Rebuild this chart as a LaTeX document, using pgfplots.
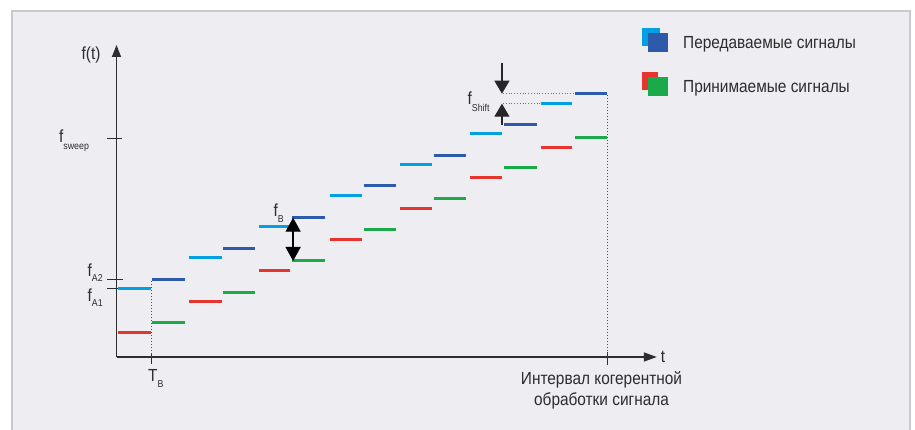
\documentclass[border=0pt]{standalone}
\usepackage{pgfplots}
\pgfplotsset{compat=1.18}
\usepackage{fontspec}
\setmainfont{Liberation Sans}[FakeStretch=0.88]
\usetikzlibrary{arrows.meta}
\definecolor{bgc}{RGB}{237,237,242}
\definecolor{frm}{RGB}{200,200,206}
\definecolor{cyanb}{RGB}{0,160,227}
\definecolor{darkb}{RGB}{46,90,172}
\definecolor{redb}{RGB}{232,52,46}
\definecolor{greenb}{RGB}{26,170,74}
\definecolor{txt}{RGB}{45,45,45}
\newcommand\IP[2]{({#1pt},{430pt-#2pt})}
\newcommand\mainf{\fontsize{17.5}{20}\selectfont}
\newcommand\subf[2][-5.5pt]{\raisebox{#1}{\fontsize{10}{11}\selectfont #2}}
\begin{document}
\begin{tikzpicture}
\fill[bgc] \IP{12}{11} rectangle \IP{910}{440};
\draw[frm, line width=2pt] \IP{12}{440} -- \IP{12}{11} -- \IP{910}{11} -- \IP{910}{440};
\begin{axis}[at={(116.5pt,73pt)}, anchor=south west, x=35.04pt, y=1pt,
  xmin=0, xmax=14, ymin=0, ymax=300, enlargelimits=false,
  hide axis, clip=false, unbounded coords=jump]
% transmitted
\addplot[cyanb, line width=3pt, no marks] coordinates {
 (0.04,68) (0.98,68) (nan,nan)
 (2.07,99) (3.01,99) (nan,nan)
 (4.07,130) (4.95,130) (nan,nan)
 (6.09,161) (7.00,161) (nan,nan)
 (8.09,192) (9.00,192) (nan,nan)
 (10.09,223) (11.00,223) (nan,nan)
 (12.11,253.3) (13.00,253.3)};
\addplot[darkb, line width=3pt, no marks] coordinates {
 (1.01,77.7) (1.95,77.7) (nan,nan)
 (3.04,108.7) (3.95,108.7) (nan,nan)
 (5.01,139.3) (5.95,139.3) (nan,nan)
 (7.06,171) (7.98,171) (nan,nan)
 (9.06,201) (9.97,201) (nan,nan)
 (11.06,232) (12.00,232) (nan,nan)
 (13.08,263.3) (14.00,263.3)};
% received
\addplot[redb, line width=3pt, no marks] coordinates {
 (0.04,24.3) (0.98,24.3) (nan,nan)
 (2.07,55.3) (3.01,55.3) (nan,nan)
 (4.07,86.3) (4.95,86.3) (nan,nan)
 (6.09,117) (7.00,117) (nan,nan)
 (8.09,148) (9.00,148) (nan,nan)
 (10.09,179) (11.00,179) (nan,nan)
 (12.11,209.7) (13.00,209.7)};
\addplot[greenb, line width=3pt, no marks] coordinates {
 (1.01,34.3) (1.95,34.3) (nan,nan)
 (3.04,64.7) (3.95,64.7) (nan,nan)
 (5.01,96) (5.95,96) (nan,nan)
 (7.06,127) (7.98,127) (nan,nan)
 (9.06,158) (9.97,158) (nan,nan)
 (11.06,189) (12.00,189) (nan,nan)
 (13.08,219.3) (14.00,219.3)};
% axes
\draw[txt, line width=1.4pt, -{Triangle[length=12pt,width=9pt]}] (axis cs:0,0) -- (axis cs:0,312);
\draw[txt, line width=1.4pt, -{Triangle[length=13pt,width=9pt]}] (axis cs:0,0) -- (axis cs:15.42,0);
% ticks
\draw[txt, line width=1pt] (axis cs:-0.28,218.7) -- (axis cs:0.16,218.7);
\draw[txt, line width=1pt] (axis cs:-0.27,77.7) -- (axis cs:0.18,77.7);
\draw[txt, line width=1pt] (axis cs:-0.27,68) -- (axis cs:0.05,68);
\draw[txt, line width=1pt] (axis cs:1.01,-7) -- (axis cs:1.01,3);
\draw[txt, line width=1pt] (axis cs:14.0,-8) -- (axis cs:14.0,5);
% dotted guides
\draw[black!70, dotted, line width=1pt] (axis cs:1.01,0) -- (axis cs:1.01,77.7);
\draw[black!70, dotted, line width=1pt] (axis cs:14.0,0) -- (axis cs:14.0,263.3);
\draw[black!55, dotted, line width=0.8pt] (axis cs:11.03,263.3) -- (axis cs:13.08,263.3);
\draw[black!55, dotted, line width=0.8pt] (axis cs:11.03,253.3) -- (axis cs:12.11,253.3);
% f_B double arrow
\draw[black, line width=1.3pt, {Triangle[length=14pt,width=15pt]}-{Triangle[length=14pt,width=15pt]}] (axis cs:5.04,96) -- (axis cs:5.04,139.3);
% f_shift arrows
\draw[black!85, line width=1.2pt, -{Triangle[length=13pt,width=15pt]}] (axis cs:11.0,294) -- (axis cs:11.0,263.3);
\draw[black!85, line width=1.2pt, -{Triangle[length=13pt,width=15pt]}] (axis cs:11.0,232) -- (axis cs:11.0,253.3);
\end{axis}
% labels
\begin{scope}[every node/.style={inner sep=0pt, text=txt, font=\mainf}]
\node[anchor=center] at \IP{91}{55} {f(t)};
\node[anchor=base west] at \IP{59}{143} {f\subf[-7pt]{sweep}};
\node[anchor=base west] at \IP{87.5}{277} {f\subf[-5pt]{A2}};
\node[anchor=base west] at \IP{87.5}{302} {f\subf[-5pt]{A1}};
\node[anchor=base west] at \IP{148}{382} {T\subf[-6pt]{B}};
\node[anchor=base west] at \IP{273.5}{217} {f\subf[-6pt]{B}};
\node[anchor=base west] at \IP{467.5}{105} {f\subf[-7pt]{Shift}};
\node[anchor=center] at \IP{663}{357} {t};
\node[anchor=base] at \IP{601.5}{385} {Интервал когерентной};
\node[anchor=base] at \IP{601.5}{406} {обработки сигнала};
\node[anchor=base west] at \IP{683}{49} {Передаваемые сигналы};
\node[anchor=base west] at \IP{683}{93} {Принимаемые сигналы};
\end{scope}
% legend swatches
\fill[cyanb] \IP{642}{28} rectangle \IP{660}{46};
\fill[darkb] \IP{648}{33} rectangle \IP{668}{52};
\fill[redb] \IP{642}{72} rectangle \IP{658}{90};
\fill[greenb] \IP{648}{77} rectangle \IP{668}{96};
\pgfresetboundingbox
\path[use as bounding box] (0pt,0pt) rectangle (915pt,430pt);
\end{tikzpicture}
\end{document}
